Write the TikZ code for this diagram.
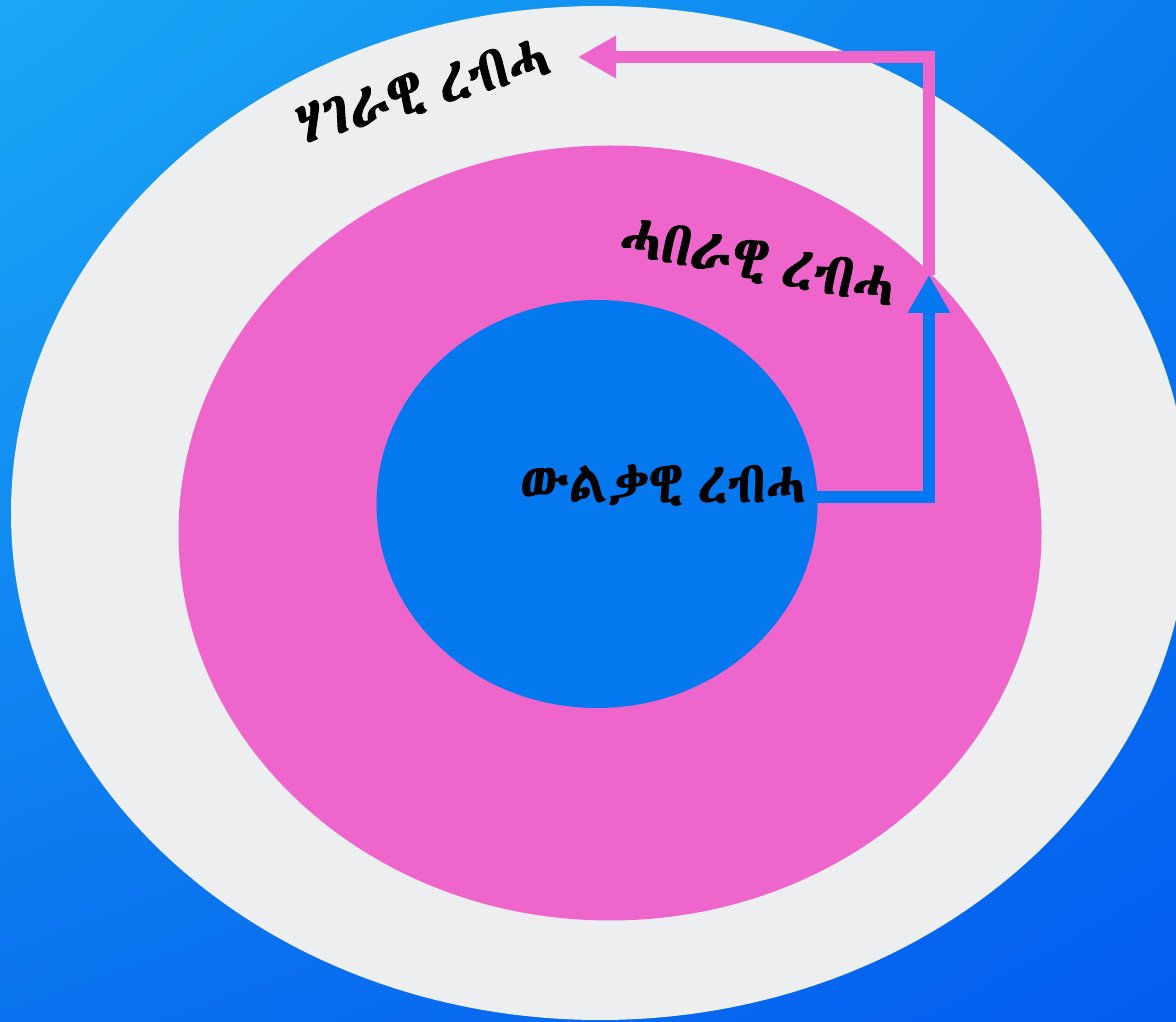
\documentclass[tikz,border=0pt]{standalone}
\usepackage{fontspec}
\usetikzlibrary{arrows.meta,shapes.geometric,shadings}
\IfFontExistsTF{Abyssinica SIL}{\newfontfamily\ethfont[FakeBold=1.6,WordSpace=0.6]{Abyssinica SIL}}{%
  \IfFontExistsTF{FreeSerif}{\newfontfamily\ethfont[FakeBold=1.6,WordSpace=0.6]{FreeSerif}}{\newfontfamily\ethfont{DejaVu Sans}}}
\definecolor{bgA}{HTML}{1AA8F6}
\definecolor{bgB}{HTML}{0A7DEE}
\definecolor{bgC}{HTML}{0A72EE}
\definecolor{bgD}{HTML}{035EF0}
\definecolor{outerc}{HTML}{EDEEF0}
\definecolor{pinkc}{HTML}{EE66CC}
\definecolor{innerc}{HTML}{0479EF}
\newcommand{\tallt}[1]{\scalebox{1}[1.12]{#1}}
\tikzset{
  ring/.style={ellipse, inner sep=0pt, draw=none},
  lbl/.style={font=\ethfont\fontsize{#1}{#1}\selectfont, text=black, inner sep=0pt},
  flow/.style={line width=12pt, -{Triangle[width=40pt,length=38pt]}},
}
\begin{document}
\begin{tikzpicture}[x=1pt,y=1pt]
\useasboundingbox (0,0) rectangle (1176,1021);
\shade[upper left=bgA, upper right=bgB, lower left=bgC, lower right=bgD] (0,0) rectangle (1176,1021);
\begin{scope}
\clip (0,0) rectangle (1176,1021);
\node[ring, fill=outerc, minimum width=1178pt, minimum height=1014pt] (outer) at (600,508) {};
\end{scope}
\node[ring, fill=pinkc, minimum width=863pt, minimum height=775pt] (middle) at (610,488) {};
\node[ring, fill=innerc, minimum width=441pt, minimum height=408pt] (inner) at (597,517) {};
\coordinate (bstart) at (816,524);
\coordinate (btip) at (929,746);
\coordinate (ptip) at (578,964);
\draw[flow, draw=innerc] (bstart) -| (btip);
\draw[flow, draw=pinkc] (btip) |- (ptip);
\node[lbl=55, rotate=16] (lout) at (423,930) {\tallt{ሃገራዊ ረብሓ}};
\node[lbl=55, rotate=-11] (lmid) at (758,759) {\tallt{ሓበራዊ ረብሓ}};
\node[lbl=52] (lin) at (663,536) {\tallt{ውልቃዊ ረብሓ}};
\end{tikzpicture}
\end{document}
